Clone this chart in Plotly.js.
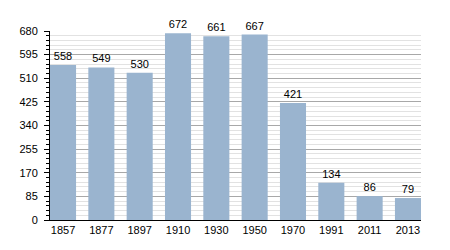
<!DOCTYPE html>
<html>
<head>
<meta charset="utf-8">
<script src="https://cdn.plot.ly/plotly-3.0.1.min.js"></script>
<style>html,body{margin:0;padding:0;background:#fff;}#chart{width:450px;height:250px;}</style>
</head>
<body>
<div id="chart"></div>
<script>
const years = ["1857","1877","1897","1910","1930","1950","1970","1991","2011","2013"];
const population = [558, 549, 530, 672, 661, 667, 421, 134, 86, 79];
const yTicks = [0, 85, 170, 255, 340, 425, 510, 595, 680];

const trace = {
  type: 'bar',
  x: years,
  y: population,
  text: population.map(String),
  textposition: 'outside',
  cliponaxis: false,
  textfont: {family: 'Liberation Sans, Arial, sans-serif', size: 11, color: '#000'},
  marker: {color: '#9ab4cf', line: {width: 0}},
  hoverinfo: 'none'
};

const layout = {
  width: 450, height: 250,
  margin: {l: 50, r: 29, t: 31, b: 30, pad: 0},
  paper_bgcolor: '#fff', plot_bgcolor: '#fff',
  bargap: 0.32,
  showlegend: false,
  font: {family: 'Liberation Sans, Arial, sans-serif', size: 11, color: '#000'},
  xaxis: {
    type: 'category',
    range: [-0.34, 9.34],
    showline: true, linecolor: '#000', linewidth: 1,
    ticks: '', showgrid: false, zeroline: false,
    tickfont: {size: 11, color: '#000'}
  },
  yaxis: {
    range: [0, 680],
    tickvals: yTicks,
    ticktext: yTicks.map(String),
    showline: true, linecolor: '#000', linewidth: 1,
    ticks: 'outside', ticklen: 5, tickcolor: '#000', tickwidth: 1,
    ticklabelstandoff: 4,
    showgrid: true, gridcolor: '#a8a8a8', gridwidth: 1,
    zeroline: false,
    tickfont: {size: 11, color: '#000'},
    minor: {dtick: 17, tick0: 0, showgrid: true, gridcolor: '#e2e2e2', gridwidth: 1, ticks: 'outside', ticklen: 3, tickcolor: '#000'}
  }
};

Plotly.newPlot('chart', [trace], layout, {staticPlot: true, displayModeBar: false});
</script>
</body>
</html>
